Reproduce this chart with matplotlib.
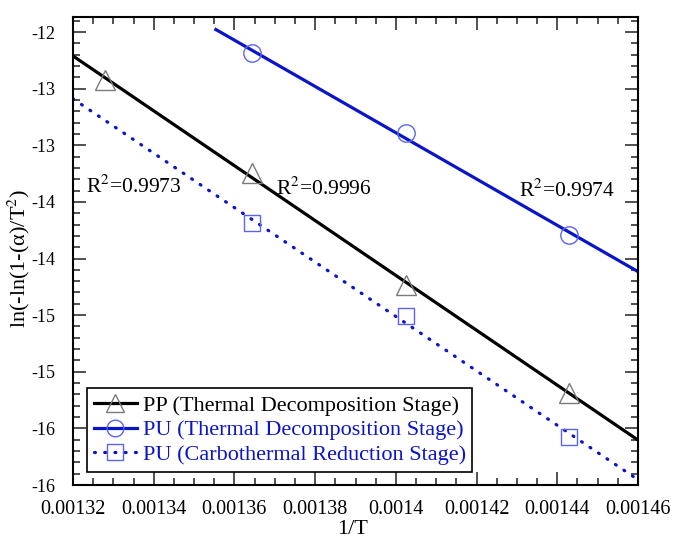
import numpy as np
import matplotlib
matplotlib.use("Agg")
import matplotlib.pyplot as plt
from matplotlib.ticker import MultipleLocator, FixedLocator, FixedFormatter

plt.rcParams['font.family'] = ['Liberation Serif', 'DejaVu Serif']
plt.rcParams['mathtext.fontset'] = 'stix'

# Data (1/T, ln(-ln(1-a)/T^2))
x_pts = [0.0013280, 0.0013643, 0.0014025, 0.0014430]
pp_y = [-12.424, -13.245, -14.234, -15.188]
pu_td_x = [0.0013643, 0.0014025, 0.0014430]
pu_td_y = [-12.185, -12.892, -13.792]
pu_cr_x = [0.0013643, 0.0014025, 0.0014430]
pu_cr_y = [-13.687, -14.508, -15.576]

labels = ["PP (Thermal Decomposition Stage)",
          "PU (Thermal Decomposition Stage)",
          "PU (Carbothermal Reduction Stage)"]
r2_texts = ["R$^2$=0.9973", "R$^2$=0.9996", "R$^2$=0.9974"]

ytick_vals = [-16, -15.5, -15, -14.5, -14, -13.5, -13, -12.5, -12]
ytick_labels = ["-16", "-16", "-15", "-15", "-14", "-14", "-13", "-13", "-12"]
xtick_vals = [0.00132, 0.00134, 0.00136, 0.00138, 0.0014, 0.00142, 0.00144, 0.00146]
xtick_labels = ["0.00132", "0.00134", "0.00136", "0.00138", "0.0014", "0.00142", "0.00144", "0.00146"]

fig = plt.figure(figsize=(6.73, 5.42), dpi=100)
ax = fig.add_axes([73/673, 1-485/542, 565/673, 468/542])

xmin, xmax = 0.00132, 0.00146
blue = '#0a14c8'
mblue = '#5a64f0'
dots = (0, (0.3, 2.9))

# fits
p_pp = np.polyfit(x_pts, pp_y, 1)
p_td = np.polyfit(pu_td_x, pu_td_y, 1)
p_cr = np.polyfit(pu_cr_x, pu_cr_y, 1)

xs = np.array([xmin, xmax])
xs_td = np.array([0.0013554, xmax])

ax.plot(xs, np.polyval(p_pp, xs), color='black', lw=2.3, zorder=2)
ax.plot(xs_td, np.polyval(p_td, xs_td), color=blue, lw=2.3, zorder=2)
ax.plot(xs, np.polyval(p_cr, xs), color=blue, lw=2.3, ls=dots,
        dash_capstyle='round', zorder=2)

ax.plot(x_pts, pp_y, ls='none', marker='^', ms=14, mfc='none', mec='#7a7a7a', mew=1.0, zorder=3)
ax.plot(pu_td_x, pu_td_y, ls='none', marker='o', ms=12.5, mfc='none', mec=mblue, mew=1.0, zorder=3)
ax.plot(pu_cr_x, pu_cr_y, ls='none', marker='s', ms=12, mfc='none', mec=mblue, mew=1.0, zorder=3)

# legend handles
h1, = ax.plot([], [], color='black', lw=2.3, marker='^', ms=13, mfc='none', mec='#7a7a7a', mew=1.0)
h2, = ax.plot([], [], color=blue, lw=2.3, marker='o', ms=12, mfc='none', mec=mblue, mew=1.0)
h3, = ax.plot([], [], color=blue, lw=2.3, ls=dots, dash_capstyle='round',
              marker='s', ms=12, mfc='none', mec=mblue, mew=1.0)
leg = ax.legend([h1, h2, h3], labels, loc='lower left', bbox_to_anchor=(0.025, 0.028),
                borderaxespad=0, fontsize=16, frameon=True, fancybox=False,
                edgecolor='black', framealpha=1, handlelength=1.95, handletextpad=0.25,
                labelspacing=0.19, borderpad=0.3)
leg.get_frame().set_linewidth(1.2)
for t, c in zip(leg.get_texts(), ['black', blue, blue]):
    t.set_color(c)

ax.text(0.0013232, -13.422, r2_texts[0], fontsize=15.5, ha='left', va='baseline')
ax.text(0.0013703, -13.44, r2_texts[1], fontsize=15.5, ha='left', va='baseline')
ax.text(0.0014305, -13.457, r2_texts[2], fontsize=15.5, ha='left', va='baseline')

ax.set_xlim(xmin, xmax)
ax.set_ylim(-16, -11.8675)
ax.xaxis.set_major_locator(FixedLocator(xtick_vals))
ax.xaxis.set_major_formatter(FixedFormatter(xtick_labels))
ax.xaxis.set_minor_locator(MultipleLocator(0.000005))
ax.yaxis.set_major_locator(FixedLocator(ytick_vals))
ax.yaxis.set_major_formatter(FixedFormatter(ytick_labels))
ax.yaxis.set_minor_locator(MultipleLocator(0.1))

ax.tick_params(which='both', direction='in', top=True, right=True, width=1.2, color='#333333')
ax.tick_params(axis='x', labelsize=14.5)
ax.tick_params(axis='y', labelsize=13)
ax.tick_params(which='major', length=9.5)
ax.tick_params(axis='x', which='major', pad=11)
ax.tick_params(axis='y', which='major', pad=13)
ax.tick_params(which='minor', length=5)
for s in ax.spines.values():
    s.set_linewidth(1.5)

ax.set_xlabel("1/T", fontsize=16)
ax.xaxis.set_label_coords((353-73)/565, -(530-485)/468)
ax.xaxis.label.set_va('center')
ax.set_ylabel("ln(-ln(1-(α)/T$^2$)", fontsize=16)
ax.yaxis.set_label_coords(-(73-19)/565, (485-258)/468)
ax.yaxis.label.set_va('center')

fig.savefig("out.png", dpi=100)
